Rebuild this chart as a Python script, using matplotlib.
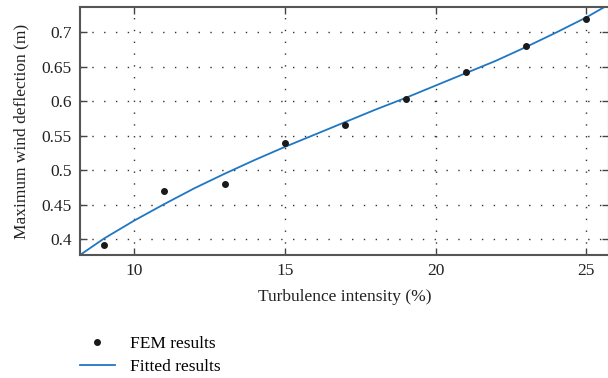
import numpy as np
import matplotlib
matplotlib.use("Agg")
import matplotlib.pyplot as plt

plt.rcParams['font.family'] = ['Liberation Serif', 'DejaVu Serif']

# FEM points
fem_x = [9, 11, 13, 15, 17, 19, 21, 23, 25]
fem_y = [0.392, 0.470, 0.480, 0.540, 0.566, 0.604, 0.643, 0.681, 0.720]

# fitted curve
fit_x = [8.2, 9, 10, 11, 12, 13, 14, 15, 16, 17, 18, 19, 20, 21, 22, 23, 24, 25, 25.6]
fit_y = [0.377, 0.401, 0.427, 0.451, 0.474, 0.495, 0.515, 0.534, 0.552, 0.570,
         0.588, 0.605, 0.623, 0.641, 0.659, 0.679, 0.700, 0.722, 0.737]

xticks = [10, 15, 20, 25]
yticks = [0.4, 0.45, 0.5, 0.55, 0.6, 0.65, 0.7]
ytick_labels = ['0.4', '0.45', '0.5', '0.55', '0.6', '0.65', '0.7']

fig = plt.figure(figsize=(6.08, 3.78), dpi=100)
# right spine sits just past the image edge, like the original
ax = fig.add_axes([80/608, 1 - 255/378, 529/608, 248/378])

ax.plot(fem_x, fem_y, 'o', color='#1a1a1a', markersize=4, label='FEM results', zorder=3)
ax.plot(fit_x, fit_y, '-', color='#1f77c4', linewidth=1.3, label='Fitted results', zorder=2)

ax.set_xlim(8.2, 25.75)
ax.set_ylim(0.377, 0.737)
ax.set_xticks(xticks)
ax.set_yticks(yticks)
ax.set_yticklabels(ytick_labels)

ax.grid(True, color='#333333', linestyle=(0, (1, 7.5)), linewidth=1.0)
ax.tick_params(direction='in', top=True, right=True, labelsize=12.5, length=5,
               width=1.0, colors='#444444', labelcolor='#222222', pad=6)
for s in ax.spines.values():
    s.set_color('#555555')
    s.set_linewidth(1.5)

ax.set_xlabel('Turbulence intensity (%)', fontsize=12.5, color='#222222', labelpad=7)
ax.set_ylabel('Maximum wind deflection (m)', fontsize=12.5, color='#222222', labelpad=9)

ax.legend(loc='upper left', bbox_to_anchor=(-0.013, -0.3), frameon=False,
          fontsize=12.5, handlelength=2.0, handletextpad=0.85, labelspacing=0.35,
          borderaxespad=0)

fig.savefig('out.png', dpi=100)
